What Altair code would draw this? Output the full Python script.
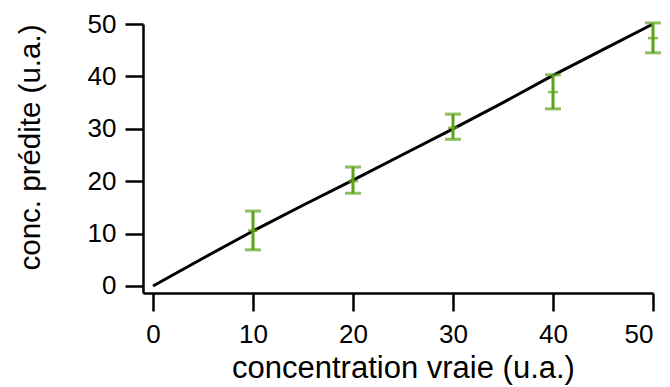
import altair as alt
import pandas as pd

# black line (true vs. predicted, reference curve)
line_x = [0, 5, 10, 15, 20, 25, 30, 35, 40, 45, 50]
line_y = [0, 5.3, 10.5, 15.4, 20.2, 25.1, 30.0, 35.0, 40.2, 45.1, 50]

# green error bars
err_x = [10, 20, 30, 40, 50]
err_mean = [10.6, 20.0, 30.2, 37.0, 47.3]
err_low = [6.9, 17.7, 28.0, 33.8, 44.5]
err_high = [14.3, 22.7, 32.8, 40.3, 50.2]

ticks = [0, 10, 20, 30, 40, 50]

line_df = pd.DataFrame({"x": line_x, "y": line_y})
err_df = pd.DataFrame({"x": err_x, "mean": err_mean, "low": err_low, "high": err_high})

GREEN = "#5ba21a"
FONT = "Liberation Sans"

xscale = alt.Scale(domain=[-1, 50], nice=False, zero=False)
yscale = alt.Scale(domain=[-1.34, 50], nice=False, zero=False)

xaxis = alt.Axis(values=ticks, title="concentration vraie (u.a.)", grid=False,
                 labelPadding=10, titlePadding=6, titleFontSize=31, titleX=260)
yaxis = alt.Axis(values=ticks, title="conc. prédite (u.a.)", grid=False,
                 labelPadding=9, titlePadding=42, titleFontSize=29.5, titleY=123)

line = alt.Chart(line_df).mark_line(color="black", strokeWidth=3).encode(
    x=alt.X("x:Q", scale=xscale, axis=xaxis),
    y=alt.Y("y:Q", scale=yscale, axis=yaxis),
)

bars = alt.Chart(err_df).mark_rule(color=GREEN, strokeWidth=3).encode(
    x="x:Q", y="low:Q", y2="high:Q"
)
cap_lo = alt.Chart(err_df).mark_tick(color=GREEN, orient="horizontal", size=16, thickness=3).encode(
    x="x:Q", y="low:Q"
)
cap_hi = alt.Chart(err_df).mark_tick(color=GREEN, orient="horizontal", size=16, thickness=3).encode(
    x="x:Q", y="high:Q"
)
mid = alt.Chart(err_df).mark_tick(color=GREEN, orient="horizontal", size=10, thickness=2.5).encode(
    x="x:Q", y="mean:Q"
)

chart = alt.layer(line, bars, cap_lo, cap_hi, mid).properties(
    width=510, height=269,
    autosize=alt.AutoSizeParams(type="none"),
    padding={"left": 143, "top": 24, "right": 17, "bottom": 94},
).configure_view(stroke=None).configure_axis(
    domainColor="black", domainWidth=2.5, tickColor="black", tickWidth=2.5, tickSize=18,
    labelFont=FONT, labelFontSize=26, labelColor="black",
    titleFont=FONT, titleFontWeight="normal", titleColor="black",
)

chart.save("out.html", embed_options={"renderer": "svg", "actions": False})
